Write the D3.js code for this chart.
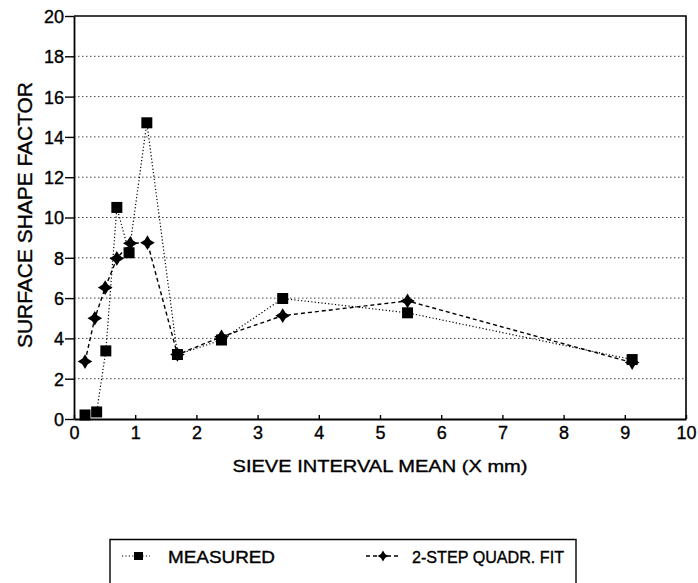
<!DOCTYPE html>
<html>
<head>
<meta charset="utf-8">
<script src="https://cdn.jsdelivr.net/npm/d3@7"></script>
<style>
  body { margin: 0; background: #fff; }
  svg { display: block; font-family: "Liberation Sans", Arial, Helvetica, sans-serif; }
  svg text { stroke: #000; stroke-width: 0.35px; }
</style>
</head>
<body>
<div class="chart--container"></div>
<script>
// values
let measuredX = [0.18, 0.37, 0.52, 0.70, 0.90, 1.19, 1.69, 2.41, 3.41, 5.45, 9.12],
    measuredY = [0.2, 0.35, 3.38, 10.5, 8.25, 14.7, 3.2, 3.92, 5.98, 5.27, 2.95],
    fitX = [0.18, 0.34, 0.51, 0.70, 0.92, 1.20, 1.69, 2.41, 3.41, 5.45, 9.12],
    fitY = [2.85, 5.0, 6.52, 7.97, 8.72, 8.75, 3.2, 4.08, 5.13, 5.86, 2.8],
    xTicks = [0, 1, 2, 3, 4, 5, 6, 7, 8, 9, 10],
    yTicks = [0, 2, 4, 6, 8, 10, 12, 14, 16, 18, 20],
    gridY = [2, 4, 6, 8, 10, 12, 14, 16, 18],
    seriesNames = ['MEASURED', '2-STEP QUADR. FIT'];

let margin = {t: 16, l: 74, b: 164, r: 12},
    W = 698, H = 583,
    width = W - margin.l - margin.r,
    height = H - margin.t - margin.b;

let svg = d3.select('.chart--container')
            .append('svg')
            .attr('width', W)
            .attr('height', H);

let g = svg.append('g')
           .attr('transform', `translate(${margin.l}, ${margin.t})`);

let scale_x = d3.scaleLinear().domain([0, 10]).range([0, width]),
    scale_y = d3.scaleLinear().domain([0, 20]).range([height, 0]);

// dotted horizontal grid
g.selectAll('line.grid')
  .data(gridY)
  .enter()
  .append('line')
  .attr('class', 'grid')
  .attr('x1', 0)
  .attr('x2', width)
  .attr('y1', d => scale_y(d))
  .attr('y2', d => scale_y(d))
  .attr('stroke', '#444')
  .attr('stroke-width', 1)
  .attr('stroke-dasharray', '1.5,2.5');

// top and right frame
g.append('path')
  .attr('d', `M0,${scale_y(20)}H${width}V${height}`)
  .attr('fill', 'none')
  .attr('stroke', '#000')
  .attr('stroke-width', 1.6);

// x-axis
let xAxis = g.append('g')
  .attr('transform', `translate(0, ${height})`)
  .call(d3.axisBottom(scale_x).tickValues(xTicks).tickSize(-4).tickSizeOuter(0).tickPadding(8));

// y-axis
let yAxis = g.append('g')
  .call(d3.axisLeft(scale_y).tickValues(yTicks).tickSize(9).tickSizeOuter(0).tickPadding(1));

[xAxis, yAxis].forEach(a => {
  a.select('.domain').attr('stroke', '#000').attr('stroke-width', 1.8);
  a.selectAll('.tick line').attr('stroke', '#000').attr('stroke-width', 1.4);
  a.selectAll('.tick text')
    .attr('fill', '#000')
    .style('font-size', '18px')
    .style('font-family', '"Liberation Sans", Arial, sans-serif');
});
xAxis.selectAll('.tick text').attr('dy', '0.68em');
yAxis.selectAll('.tick text').attr('dy', '0.36em');

// 4-point star used for the fit points
let starSymbol = {
  draw(ctx, size) {
    let r = Math.sqrt(size) * 0.7, w = r * 0.38;
    ctx.moveTo(0, -r);
    ctx.lineTo(w, -w);
    ctx.lineTo(r, 0);
    ctx.lineTo(w, w);
    ctx.lineTo(0, r);
    ctx.lineTo(-w, w);
    ctx.lineTo(-r, 0);
    ctx.lineTo(-w, -w);
    ctx.closePath();
  }
};

let measured = measuredX.map((x, i) => [x, measuredY[i]]),
    fit = fitX.map((x, i) => [x, fitY[i]]);

let line = d3.line()
             .x(d => scale_x(d[0]))
             .y(d => scale_y(d[1]));

// measured series: dotted
g.append('path')
  .datum(measured)
  .attr('d', line)
  .attr('fill', 'none')
  .attr('stroke', '#000')
  .attr('stroke-width', 1.2)
  .attr('stroke-dasharray', '1.2,2.2');

// fit series: dashed
g.append('path')
  .datum(fit)
  .attr('d', line)
  .attr('fill', 'none')
  .attr('stroke', '#000')
  .attr('stroke-width', 1.4)
  .attr('stroke-dasharray', '4,3');

g.selectAll('path.fit')
  .data(fit)
  .enter()
  .append('path')
  .attr('class', 'fit')
  .attr('transform', d => `translate(${scale_x(d[0])}, ${scale_y(d[1])})`)
  .attr('d', d3.symbol().type(starSymbol).size(110))
  .attr('fill', '#000');

g.selectAll('rect.meas')
  .data(measured)
  .enter()
  .append('rect')
  .attr('class', 'meas')
  .attr('x', d => scale_x(d[0]) - 5.5)
  .attr('y', d => scale_y(d[1]) - 5.5)
  .attr('width', 11)
  .attr('height', 11)
  .attr('fill', '#000');

// label for x-axis
svg.append('text')
  .attr('text-anchor', 'middle')
  .attr('x', margin.l + width / 2)
  .attr('y', 472)
  .attr('textLength', 295)
  .attr('lengthAdjust', 'spacingAndGlyphs')
  .style('font-size', '17px')
  .text('SIEVE INTERVAL MEAN (X mm)');

// label for y-axis
svg.append('text')
  .attr('text-anchor', 'middle')
  .attr('transform', 'translate(32, 215) rotate(-90)')
  .attr('textLength', 266)
  .attr('lengthAdjust', 'spacingAndGlyphs')
  .style('font-size', '20px')
  .text('SURFACE SHAPE FACTOR');

// legend box
svg.append('path')
  .attr('d', 'M110,600V539.5H576V600')
  .attr('fill', 'none')
  .attr('stroke', '#000')
  .attr('stroke-width', 1.4);

svg.append('line')
  .attr('x1', 122).attr('x2', 150)
  .attr('y1', 556).attr('y2', 556)
  .attr('stroke', '#000')
  .attr('stroke-dasharray', '1.2,2.2');
svg.append('rect')
  .attr('x', 134).attr('y', 552)
  .attr('width', 9).attr('height', 8)
  .attr('fill', '#000');
svg.append('text')
  .attr('x', 168).attr('y', 563)
  .attr('textLength', 107)
  .attr('lengthAdjust', 'spacingAndGlyphs')
  .style('font-size', '16px')
  .text(seriesNames[0]);

svg.append('line')
  .attr('x1', 366).attr('x2', 401)
  .attr('y1', 556).attr('y2', 556)
  .attr('stroke', '#000')
  .attr('stroke-width', 1.3)
  .attr('stroke-dasharray', '4,3');
svg.append('path')
  .attr('transform', 'translate(383, 556)')
  .attr('d', d3.symbol().type(starSymbol).size(60))
  .attr('fill', '#000');
svg.append('text')
  .attr('x', 412).attr('y', 563)
  .attr('textLength', 152)
  .attr('lengthAdjust', 'spacingAndGlyphs')
  .style('font-size', '16px')
  .text(seriesNames[1]);
</script>
</body>
</html>
